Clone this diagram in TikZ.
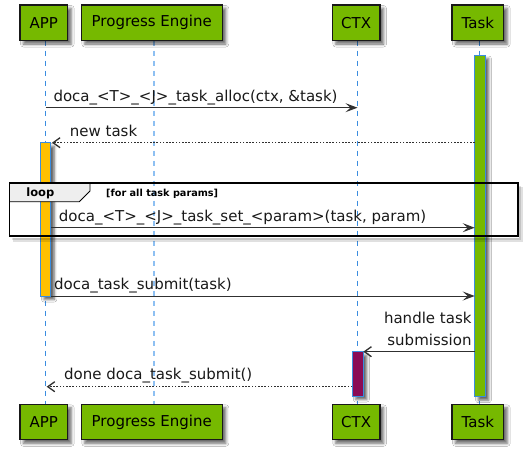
\documentclass[tikz,border=0pt]{standalone}
\usepackage{fontspec}
\setmainfont{DejaVu Sans}
\usetikzlibrary{arrows.meta,shadows.blur}
\definecolor{nvgreen}{HTML}{76B900}
\definecolor{lifeblue}{HTML}{3A8DE0}
\definecolor{lifelight}{HTML}{8EC0F2}
\definecolor{actorange}{HTML}{FFC000}
\definecolor{actpurple}{HTML}{8A0B55}
\definecolor{msgcol}{HTML}{303030}
\definecolor{tabgray}{HTML}{EEEEEE}
\begin{document}
\begin{tikzpicture}[x=1pt,y=-1pt,
  participant/.style={draw=black!90, line width=1.3pt, fill=nvgreen, inner sep=0pt, outer sep=0pt,
    minimum height=35.5pt, anchor=north west, font=\fontsize{15}{18}\selectfont,
    blur shadow={shadow xshift=3.5pt, shadow yshift=-3.5pt, shadow blur radius=3pt, shadow opacity=60}},
  lifeline/.style={draw=lifeblue, line width=1.3pt, dash pattern=on 5pt off 5pt},
  actbar/.style={draw=lifeblue, line width=1pt, inner sep=0pt, outer sep=0pt, anchor=north west,
    blur shadow={shadow xshift=3.5pt, shadow yshift=-3.5pt, shadow blur radius=2.5pt, shadow opacity=60}},
  msg/.style={draw=msgcol, line width=1pt, -{Stealth[length=12pt,width=9pt,inset=5pt]}},
  msgopen/.style={draw=msgcol, line width=1pt, -{Straight Barb[length=7pt,width=10pt,line width=1.3pt]}},
  retmsg/.style={draw=msgcol, line width=1pt, dash pattern=on 1.6pt off 1.6pt, -{Straight Barb[length=7pt,width=10pt,line width=1.3pt,sep]}},
  lbl/.style={anchor=base west, inner sep=0pt, font=\fontsize{15}{18}\selectfont, text=black!90},
  lblr/.style={anchor=base east, inner sep=0pt, font=\fontsize{15}{18}\selectfont, text=black!90},
]
\useasboundingbox (0,0) rectangle (532,453);
\fill[white] (0,0) rectangle (532,453);

% lifeline end points
\coordinate (appT) at (45.5,40.7);   \coordinate (appB) at (45.5,404.3);
\coordinate (peT)  at (153.7,40.7);  \coordinate (peB)  at (153.7,404.3);
\coordinate (ctxT) at (357.5,40.7);  \coordinate (ctxB) at (357.5,404.3);
\coordinate (tskT) at (479.5,40.7);  \coordinate (tskB) at (479.5,404.3);
\draw[lifeline] (appT) -- (appB);
\draw[lifeline, draw=lifelight, line width=1.6pt] (peT) -- (peB);
\draw[lifeline] (ctxT) -- (ctxB);
\draw[lifeline] (tskT) -- (tskB);

% participants
\node[participant, minimum width=47.7pt] (app1) at (20,5) {APP};
\node[participant, minimum width=141pt]  (pe1)  at (81.3,5) {Progress Engine};
\node[participant, minimum width=47.7pt] (ctx1) at (332.3,5) {CTX};
\node[participant, minimum width=51.7pt] (tsk1) at (452,5) {Task};
\node[participant, minimum width=47.7pt] (app2) at (20,404.3) {APP};
\node[participant, minimum width=141pt]  (pe2)  at (81.3,404.3) {Progress Engine};
\node[participant, minimum width=47.7pt] (ctx2) at (332.3,404.3) {CTX};
\node[participant, minimum width=51.7pt] (tsk2) at (452,404.3) {Task};

% activation bars
\node[actbar, fill=nvgreen, minimum width=10.6pt, minimum height=341.7pt] (tskbar) at (474.7,55) {};
\node[actbar, fill=actorange, minimum width=10.3pt, minimum height=153.3pt] (appbar) at (40.5,142.7) {};
\node[actbar, fill=actpurple, minimum width=11pt, minimum height=44.3pt] (ctxbar) at (352.3,351.7) {};

% loop frame
\coordinate (fr1) at (9.5,183.3);
\coordinate (fr2) at (517.7,236);
\draw[black, opacity=0.12, line width=4pt] (13,239.5) -- (521.2,239.5) -- (521.2,187);
\draw[black, opacity=0.12, line width=2pt] (12,238.5) -- (520.2,238.5) -- (520.2,186);
\draw[fill=tabgray, draw=black, line width=0.8pt] (9.5,183.3) -- (90,183.3) -- (90,191) -- (79.3,201.7) -- (9.5,201.7) -- cycle;
\draw[black, line width=1.8pt] (fr1) rectangle (fr2);
\node[anchor=base west, inner sep=0pt, font=\fontsize{11.5}{13}\selectfont\bfseries] (looplbl) at (26.2,196.7) {loop};
\node[anchor=base west, inner sep=0pt, font=\fontsize{9.7}{11}\selectfont\bfseries] (loopcond) at (106,196) {[for all task params]};

% messages
\coordinate (m1s) at (45.5,107.7);  \coordinate (m1e) at (357.5,107.7);
\draw[msg] (m1s) -- (m1e);
\node[lbl] (l1) at (53.3,101) {doca\_<T>\_<J>\_task\_alloc(ctx, \&task)};

\coordinate (m2s) at (474.7,142.7); \coordinate (m2e) at (50.8,142.7);
\draw[retmsg] (m2s) -- (m2e);
\node[lbl] (l2) at (69.7,136) {new task};

\coordinate (m3s) at (50.8,227.7);  \coordinate (m3e) at (474.7,227.7);
\draw[msg] (m3s) -- (m3e);
\node[lbl] (l3) at (58.7,221.7) {doca\_<T>\_<J>\_task\_set\_<param>(task, param)};

\coordinate (m4s) at (50.8,296);    \coordinate (m4e) at (474.7,296);
\draw[msg] (m4s) -- (m4e);
\node[lbl] (l4) at (54,289) {doca\_task\_submit(task)};

\coordinate (m5s) at (474.7,351.7); \coordinate (m5e) at (363.3,351.7);
\draw[msgopen] (m5s) -- (m5e);
\node[lblr] (l5a) at (471.7,323.3) {handle task};
\node[lblr] (l5b) at (471.7,345) {submission};

\coordinate (m6s) at (352.3,386.7); \coordinate (m6e) at (45.5,386.7);
\draw[retmsg] (m6s) -- (m6e);
\node[lbl] (l6) at (64,379) {done doca\_task\_submit()};
\end{tikzpicture}
\end{document}
